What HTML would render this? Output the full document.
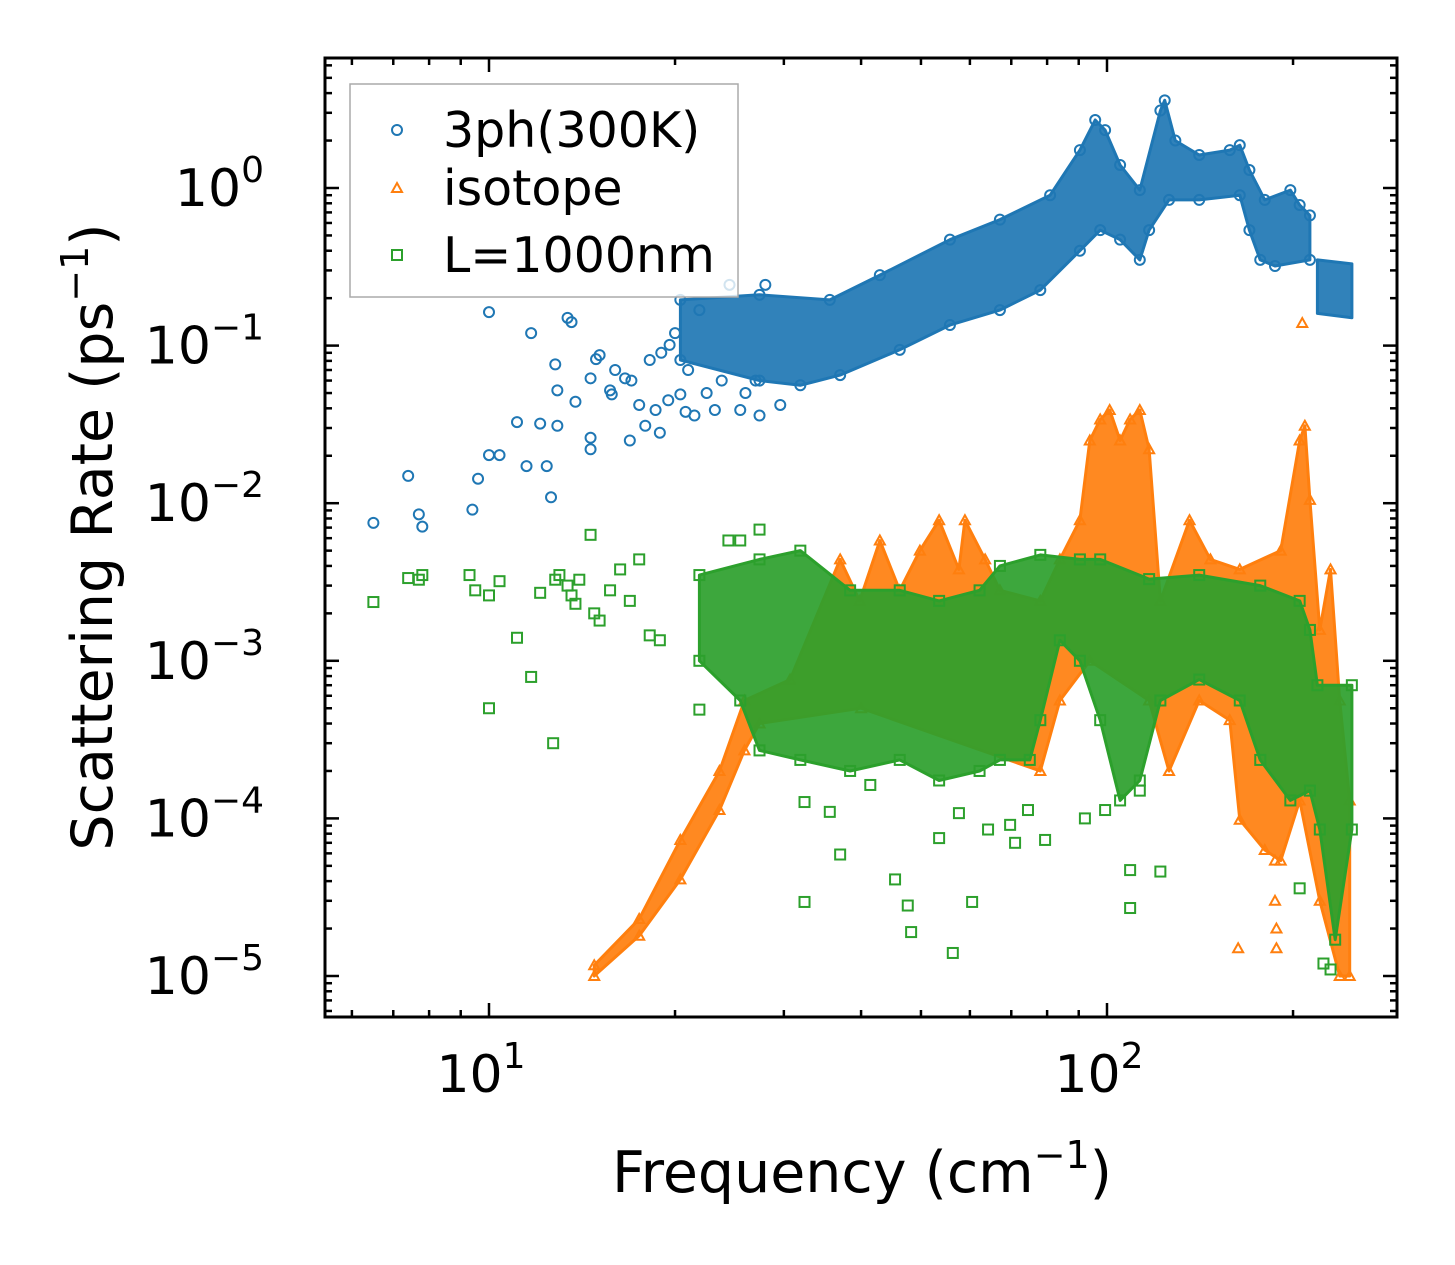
<!DOCTYPE html>
<html><head><meta charset="utf-8">
<style>
html,body{margin:0;padding:0;background:#fff;}
svg{display:block;font-family:"DejaVu Sans","Liberation Sans",sans-serif;}
</style></head>
<body>
<svg id="chart" width="1455" height="1265" viewBox="0 0 1455 1265" xmlns="http://www.w3.org/2000/svg">
<rect width="1455" height="1265" fill="#fff"/>
<g id="marks"></g>
<g id="ticks"></g>
<rect x="325" y="58" width="1072" height="959" fill="none" stroke="#000" stroke-width="3"/>
<text x="862" y="1192" font-size="57" text-anchor="middle">Frequency (cm<tspan dy="-24" font-size="38">−1</tspan><tspan dy="24">)</tspan></text>
<text transform="translate(112,537) rotate(-90)" font-size="57" text-anchor="middle">Scattering Rate (ps<tspan dy="-24" font-size="38">−1</tspan><tspan dy="24">)</tspan></text>
<g>
<rect x="350" y="84" width="388" height="213" fill="#fff" fill-opacity="0.8" stroke="#aaa" stroke-width="1.5"/>
<circle cx="397" cy="130" r="5" fill="none" stroke="#1f77b4" stroke-width="2"/>
<text x="443" y="147" font-size="49">3ph(300K)</text>
<polygon points="397,183 402,192 392,192" fill="none" stroke="#ff7f0e" stroke-width="2"/>
<text x="443" y="205" font-size="49">isotope</text>
<rect x="392" y="250" width="10" height="10" fill="none" stroke="#2ca02c" stroke-width="2"/>
<text x="443" y="272" font-size="49">L=1000nm</text>
</g>
</svg>
<script>
// ---- data (frequency cm^-1, rate ps^-1) ----
const blueUpper=[[20.4,0.195],[27.4,0.21],[35.6,0.195],[42.9,0.28],[55.7,0.47],[67.1,0.63],[80.9,0.90],[90.4,1.74],[95.7,2.7],[99.3,2.33],[105,1.40],[113,0.97],[122,3.1],[124,3.6],[129,2.0],[141,1.62],[158,1.74],[164,1.87],[170,1.30],[180,0.84],[198,0.97],[205,0.78],[213,0.67]];
const blueLower=[[20.4,0.081],[27.4,0.060],[31.9,0.056],[37.0,0.065],[46.2,0.094],[55.7,0.135],[67.1,0.168],[78.0,0.225],[90.4,0.40],[97.5,0.54],[105,0.47],[113,0.35],[117,0.54],[126,0.84],[141,0.84],[164,0.90],[170,0.54],[177,0.35],[187,0.32],[213,0.35]];
const blueTailUpper=[[219,0.35],[249,0.33]];
const blueTailLower=[[219,0.16],[249,0.15]];
const bluePoints=[[6.5,.0075],[7.4,.0149],[7.7,.0085],[7.8,.0071],[9.4,.0091],[9.6,.0143],[10.0,.163],[10.0,.0202],[10.4,.0202],[11.1,.0327],[11.5,.0172],[11.7,.12],[12.1,.032],[12.4,.0172],[12.6,.0109],[12.8,.076],[12.9,.052],[12.9,.031],[13.4,.15],[13.6,.141],[13.8,.044],[14.6,.062],[14.6,.026],[14.6,.022],[14.9,.082],[15.1,.087],[15.8,.049],[16.9,.025],[17.5,.042],[17.9,.031],[18.6,.039],[18.9,.028],[20.4,.049],[21.5,.036],[23.2,.039],[25.5,.039],[27.4,.036],[29.6,.042],[15.7,.052],[16.6,.062],[18.2,.081],[19.6,.101],[21.9,.168],[24.5,.243],[28.0,.243],[16.0,.07],[17.0,.06],[19.0,.09],[20.0,.12],[21.0,.07],[22.5,.05],[23.8,.06],[26.0,.05],[27.0,.06],[19.5,.045],[20.8,.038]];
const orangeUpper=[[14.8,1.17e-5],[17.5,2.3e-5],[20.4,7.3e-5],[23.6,2.0e-4],[25.9,5.6e-4],[30.7,7.6e-4],[37.0,4.4e-3],[39.8,2.4e-3],[42.9,5.8e-3],[46.2,2.8e-3],[49.8,5.0e-3],[53.5,7.8e-3],[57.6,3.8e-3],[58.9,7.8e-3],[63.5,4.4e-3],[67.1,2.8e-3],[78.0,2.4e-3],[83.9,4.4e-3],[90.4,7.8e-3],[93.8,.025],[97.5,.034],[101,.039],[105,.025],[109,.034],[113,.039],[117,.022],[122,2.4e-3],[136,7.8e-3],[147,4.4e-3],[164,3.8e-3],[191,5.0e-3],[205,.025],[209,.031],[213,.0105],[221,1.57e-3],[230,3.8e-3],[238,5.6e-4],[247,1.3e-4]];
const orangeLower=[[14.8,1.0e-5],[17.5,1.8e-5],[20.4,4.1e-5],[23.6,1.13e-4],[25.9,2.7e-4],[27.4,4.0e-4],[40,5e-4],[78,2.0e-4],[83.9,5.6e-4],[93.8,1.0e-3],[117,5.6e-4],[126,2.0e-4],[141,5.6e-4],[158,4.2e-4],[164,9.8e-5],[180,6.3e-5],[191,5.4e-5],[205,1.3e-4],[221,3.0e-5],[238,1.0e-5],[247,1.0e-5]];
const orangePoints=[[163,1.5e-5],[187,5.4e-5],[187,3e-5],[188,2e-5],[188,1.5e-5],[207,0.139]];
const greenUpper=[[21.9,3.5e-3],[27.4,4.4e-3],[31.9,5.0e-3],[38.4,2.8e-3],[46.2,2.8e-3],[53.5,2.4e-3],[62.2,2.8e-3],[67.1,4.0e-3],[78.0,4.7e-3],[90.4,4.4e-3],[97.5,4.4e-3],[117,3.3e-3],[141,3.5e-3],[177,3.0e-3],[205,2.4e-3],[213,1.57e-3],[219,7.0e-4],[249,7.0e-4]];
const greenLower=[[21.9,1.0e-3],[25.5,5.6e-4],[27.4,2.7e-4],[31.9,2.35e-4],[38.4,2.0e-4],[46.2,2.35e-4],[53.5,1.74e-4],[62.2,2.0e-4],[67.1,2.35e-4],[75.0,2.35e-4],[78,4.2e-4],[83.9,1.35e-3],[90.4,1.0e-3],[97.5,4.2e-4],[105,1.3e-4],[113,1.74e-4],[122,5.6e-4],[141,7.6e-4],[164,5.6e-4],[177,2.35e-4],[198,1.3e-4],[213,1.5e-4],[221,8.5e-5],[234,1.7e-5],[249,8.5e-5]];
const greenPoints=[[6.5,2.36e-3],[7.4,3.35e-3],[7.7,3.27e-3],[7.8,3.5e-3],[9.3,3.5e-3],[9.5,2.8e-3],[10.0,5.0e-4],[10.0,2.6e-3],[10.4,3.2e-3],[11.1,1.4e-3],[11.7,7.9e-4],[12.1,2.7e-3],[12.7,3.0e-4],[12.8,3.27e-3],[13.0,3.5e-3],[13.4,3.0e-3],[13.6,2.6e-3],[13.8,2.3e-3],[14.0,3.27e-3],[14.6,6.3e-3],[14.8,2.0e-3],[15.1,1.8e-3],[15.7,2.8e-3],[16.3,3.8e-3],[16.9,2.4e-3],[17.5,4.4e-3],[18.2,1.45e-3],[18.9,1.35e-3],[21.9,4.9e-4],[24.4,5.8e-3],[25.5,5.8e-3],[27.4,6.8e-3],[32.4,1.27e-4],[35.6,1.1e-4],[37.0,5.9e-5],[41.4,1.63e-4],[45.4,4.1e-5],[47.6,2.8e-5],[53.5,7.5e-5],[57.6,1.08e-4],[60.5,2.95e-5],[64.2,8.5e-5],[69.7,9.1e-5],[71.0,7.0e-5],[74.5,1.13e-4],[79.4,7.3e-5],[92.1,1.0e-4],[99.3,1.13e-4],[109,4.7e-5],[109,2.7e-5],[113,1.5e-4],[122,4.6e-5],[205,3.6e-5],[224,1.2e-5],[230,1.1e-5],[56.3,1.4e-5],[48.2,1.9e-5],[32.4,2.95e-5]];
const yTickExps=[-5,-4,-3,-2,-1,0];
const xTickExps=[1,2];

// ---- axes ----
const px=f=>489+(Math.log10(f)-1)*618;
const py=v=>188-Math.log10(v)*157.6;
const NS="http://www.w3.org/2000/svg";
const marks=document.getElementById('marks');
const ticks=document.getElementById('ticks');
function mk(tag,attrs,parent){const e=document.createElementNS(NS,tag);for(const k in attrs)e.setAttribute(k,attrs[k]);parent.appendChild(e);return e;}

function band(up,lo,color,op,name){
  const pts=up.map(d=>px(d[0]).toFixed(1)+','+py(d[1]).toFixed(1)).concat(lo.slice().reverse().map(d=>px(d[0]).toFixed(1)+','+py(d[1]).toFixed(1)));
  const p=mk('polygon',{points:pts.join(' '),fill:color,'fill-opacity':op,stroke:color,'stroke-width':3,'stroke-linejoin':'round'},marks);
  
  
}
function marker(kind,d,color,name){
  const x=px(d[0]),y=py(d[1]);let e;
  if(kind==='c')e=mk('circle',{cx:x,cy:y,r:5,fill:'none',stroke:color,'stroke-width':2},marks);
  else if(kind==='t')e=mk('polygon',{points:`${x},${y-5} ${x+5},${y+4} ${x-5},${y+4}`,fill:'none',stroke:color,'stroke-width':2},marks);
  else e=mk('rect',{x:x-5,y:y-5,width:10,height:10,fill:'none',stroke:color,'stroke-width':2},marks);
  
  
}
// 3ph
band(blueUpper,blueLower,'#1f77b4',0.92,'3ph-dense-band');
band(blueTailUpper,blueTailLower,'#1f77b4',0.92,'3ph-high-freq-band');
bluePoints.forEach(d=>marker('c',d,'#1f77b4','3ph-point'));
blueUpper.concat(blueLower).forEach(d=>marker('c',d,'#1f77b4','3ph-point'));
// isotope
band(orangeUpper,orangeLower,'#ff7f0e',0.92,'isotope-dense-band');
orangeUpper.concat(orangeLower,orangePoints).forEach(d=>marker('t',d,'#ff7f0e','isotope-point'));
// boundary
band(greenUpper,greenLower,'#2ca02c',0.92,'boundary-dense-band');
greenPoints.forEach(d=>marker('s',d,'#2ca02c','boundary-point'));
greenUpper.concat(greenLower).forEach(d=>marker('s',d,'#2ca02c','boundary-point'));

// ---- ticks ----
const L=325,R=1397,T=58,B=1017;
function tickLine(x1,y1,x2,y2,name){const e=mk('line',{x1,y1,x2,y2,stroke:'#000','stroke-width':2.5},ticks);}
yTickExps.forEach(e=>{
  const y=py(Math.pow(10,e));
  tickLine(L,y,L+14,y,'y-major-tick');tickLine(R,y,R-14,y,'y-major-tick');
  const t=mk('text',{x:264,y:y+18,'font-size':52,'text-anchor':'end'},ticks);
  t.textContent='10';
  const s=mk('tspan',{dy:-24,'font-size':36},t);s.textContent=e===0?'0':'−'+Math.abs(e);
  
  
});
for(let e=-6;e<=0;e++)for(let m=2;m<=9;m++){const v=m*Math.pow(10,e);const y=py(v);if(y>T&&y<B){tickLine(L,y,L+7,y,'y-minor-tick');tickLine(R,y,R-7,y,'y-minor-tick');}}
xTickExps.forEach(e=>{
  const x=px(Math.pow(10,e));
  tickLine(x,B,x,B-14,'x-major-tick');tickLine(x,T,x,T+14,'x-major-tick');
  const t=mk('text',{x:x-8,y:1092,'font-size':52,'text-anchor':'middle'},ticks);
  t.textContent='10';
  const s=mk('tspan',{dy:-24,'font-size':36},t);s.textContent=String(e);
  
  
});
for(let e=0;e<=2;e++)for(let m=2;m<=9;m++){const x=px(m*Math.pow(10,e));if(x>L&&x<R){tickLine(x,B,x,B-7,'x-minor-tick');tickLine(x,T,x,T+7,'x-minor-tick');}}
</script>
</body></html>
